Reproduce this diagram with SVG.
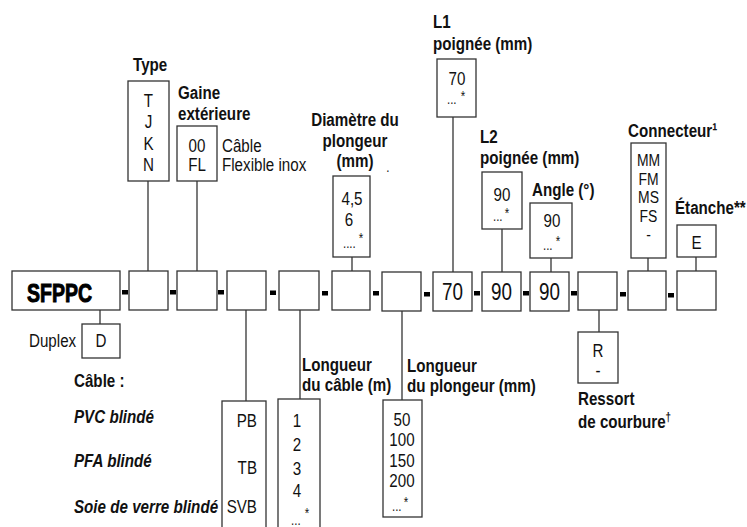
<svg xmlns="http://www.w3.org/2000/svg" width="747" height="527" viewBox="0 0 747 527">
<style>
.bx{fill:#fff;stroke:#333;stroke-width:1.3}
.ln{stroke:#333;stroke-width:1.3;fill:none}
.t{font-family:"Liberation Sans",Arial,sans-serif;font-size:18.5px;fill:#111}
.b{font-weight:bold}
.bi{font-weight:bold;font-style:italic}
.c{text-anchor:middle}
.e{text-anchor:end}
.s{font-size:14px}
.m{font-size:17px}
.big{font-size:23px}
.dash{fill:#000}
</style>
<rect width="747" height="527" fill="#fff"/>
<g id="connectors">
<line class="ln" x1="148" y1="181" x2="148" y2="271"/>
<line class="ln" x1="197" y1="181" x2="197" y2="271"/>
<line class="ln" x1="352" y1="257" x2="352" y2="271"/>
<line class="ln" x1="453" y1="117" x2="453" y2="272"/>
<line class="ln" x1="502" y1="229" x2="502" y2="272"/>
<line class="ln" x1="551" y1="258" x2="551" y2="272"/>
<line class="ln" x1="648" y1="258" x2="648" y2="271"/>
<line class="ln" x1="696" y1="257" x2="696" y2="271"/>
<line class="ln" x1="100" y1="310" x2="100" y2="324"/>
<line class="ln" x1="246" y1="310" x2="246" y2="401"/>
<line class="ln" x1="300" y1="310" x2="300" y2="399"/>
<line class="ln" x1="402" y1="311" x2="402" y2="400"/>
<line class="ln" x1="599" y1="310" x2="599" y2="332"/>
</g>
<g id="dashes">
<rect class="dash" x="122" y="290" width="6" height="4.5"/>
<rect class="dash" x="170" y="290" width="6" height="4.5"/>
<rect class="dash" x="218" y="290" width="6" height="4.5"/>
<rect class="dash" x="270" y="290.5" width="6" height="4.5"/>
<rect class="dash" x="322" y="291" width="6" height="4.5"/>
<rect class="dash" x="373" y="291" width="6" height="4.5"/>
<rect class="dash" x="424" y="292" width="6" height="4.5"/>
<rect class="dash" x="474" y="291" width="6" height="4.5"/>
<rect class="dash" x="523" y="291" width="6" height="4.5"/>
<rect class="dash" x="571" y="291" width="6" height="4.5"/>
<rect class="dash" x="620" y="292" width="6" height="4.5"/>
<rect class="dash" x="668" y="293" width="6" height="4.5"/>
</g>
<g id="main">
<rect class="bx" x="12" y="271" width="108" height="39"/>
<text x="27" y="302" font-family="Liberation Sans,Arial,sans-serif" font-weight="bold" font-size="26" stroke="#000" stroke-width="1" textLength="65" lengthAdjust="spacingAndGlyphs">SFPPC</text>
</g>
<g id="b1"><rect class="bx" x="129" y="271" width="39" height="39"/></g>
<g id="b2"><rect class="bx" x="177" y="271" width="40" height="39"/></g>
<g id="b3"><rect class="bx" x="227" y="271" width="39" height="39"/></g>
<g id="b4"><rect class="bx" x="279" y="271" width="40" height="39"/></g>
<g id="b5"><rect class="bx" x="332" y="271" width="38" height="39"/></g>
<g id="b6"><rect class="bx" x="382" y="272" width="39" height="39"/></g>
<g id="b7"><rect class="bx" x="433" y="272" width="39" height="39"/><g transform="scale(0.82 1)"><text class="t big c" x="551.83" y="300">70</text></g></g>
<g id="b8"><rect class="bx" x="482" y="272" width="39" height="39"/><g transform="scale(0.82 1)"><text class="t big c" x="611.59" y="300">90</text></g></g>
<g id="b9"><rect class="bx" x="530" y="272" width="39" height="39"/><g transform="scale(0.82 1)"><text class="t big c" x="670.12" y="300">90</text></g></g>
<g id="b10"><rect class="bx" x="578" y="272" width="39" height="38"/></g>
<g id="b11"><rect class="bx" x="628" y="271" width="38" height="39"/></g>
<g id="b12"><rect class="bx" x="677" y="271" width="39" height="39"/></g>

<g id="type">
<rect class="bx" x="128" y="81" width="41" height="100"/>
<g transform="scale(0.82 1)">
<text class="t b" x="162.2" y="71">Type</text>
<text class="t c" x="181.1" y="107">T</text>
<text class="t c" x="181.1" y="128">J</text>
<text class="t c" x="181.1" y="150">K</text>
<text class="t c" x="181.1" y="171">N</text>
</g>
</g>
<g id="gaine">
<rect class="bx" x="177" y="126" width="40" height="55"/>
<g transform="scale(0.82 1)">
<text class="t b" x="217.07" y="99">Gaine</text>
<text class="t b" x="217.07" y="120">extérieure</text>
<text class="t c" x="240.24" y="152">00</text>
<text class="t c" x="240.24" y="171">FL</text>
<text class="t" x="270.73" y="152">Câble</text>
<text class="t" x="270.73" y="171">Flexible inox</text>
</g>
</g>
<g id="diametre">
<rect class="bx" x="333" y="176" width="37" height="81"/>
<g transform="scale(0.82 1)">
<text class="t b c" x="432.93" y="126">Diamètre du</text>
<text class="t b c" x="432.93" y="147">plongeur</text>
<text class="t b c" x="432.93" y="167">(mm)</text>
<text class="t s" x="471" y="172">.</text>
<text class="t c" x="429.27" y="205">4,5</text>
<text class="t c" x="425.61" y="226">6</text>
<text class="t s" x="418.29" y="248">....</text>
<text class="t s c" x="440.24" y="243">*</text>
</g>
</g>
<g id="l1">
<rect class="bx" x="437" y="59" width="39" height="58"/>
<g transform="scale(0.82 1)">
<text class="t b" x="528.05" y="28">L1</text>
<text class="t b" x="528.05" y="50">poignée (mm)</text>
<text class="t c" x="557.32" y="85">70</text>
<text class="t s" x="545.12" y="104">...</text>
<text class="t s c" x="564.63" y="101">*</text>
</g>
</g>
<g id="l2">
<rect class="bx" x="482" y="172" width="40" height="57"/>
<g transform="scale(0.82 1)">
<text class="t b" x="585.37" y="143">L2</text>
<text class="t b" x="585.37" y="164">poignée (mm)</text>
<text class="t c" x="612.2" y="201">90</text>
<text class="t s" x="601.22" y="221">...</text>
<text class="t s c" x="618.29" y="218">*</text>
</g>
</g>
<g id="angle">
<rect class="bx" x="530" y="203" width="42" height="55"/>
<g transform="scale(0.82 1)">
<text class="t b" x="648.78" y="196">Angle (°)</text>
<text class="t c" x="673.17" y="227">90</text>
<text class="t s" x="662.2" y="250">...</text>
<text class="t s c" x="680.49" y="246">*</text>
</g>
</g>
<g id="connecteur">
<rect class="bx" x="631" y="143" width="35" height="115"/>
<g transform="scale(0.82 1)">
<text class="t b" x="765.85" y="137">Connecteur¹</text>
<text class="t m c" x="790.85" y="166">MM</text>
<text class="t m c" x="790.85" y="185">FM</text>
<text class="t m c" x="790.85" y="203">MS</text>
<text class="t m c" x="790.85" y="222">FS</text>
<text class="t m c" x="790.85" y="240">-</text>
</g>
</g>
<g id="etanche">
<rect class="bx" x="677" y="225" width="39" height="32"/>
<g transform="scale(0.82 1)">
<text class="t b" x="823.17" y="214">Étanche**</text>
<text class="t c" x="849.39" y="249">E</text>
</g>
</g>
<g id="duplex">
<rect class="bx" x="82" y="324" width="38" height="34"/>
<g transform="scale(0.82 1)">
<text class="t c" x="123.17" y="347">D</text>
<text class="t" x="35.37" y="347">Duplex</text>
</g>
</g>
<g id="cable">
<rect class="bx" x="222" y="401" width="44" height="140"/>
<g transform="scale(0.82 1)">
<text class="t b" x="90.24" y="387">Câble :</text>
<text class="t bi" x="90.24" y="423">PVC blindé</text>
<text class="t bi" x="90.24" y="467">PFA blindé</text>
<text class="t bi" x="90.24" y="513">Soie de verre blindé</text>
<text class="t e" x="313.41" y="427">PB</text>
<text class="t e" x="313.41" y="474">TB</text>
<text class="t e" x="313.41" y="513">SVB</text>
</g>
</g>
<g id="longueur-cable">
<rect class="bx" x="278" y="399" width="42" height="140"/>
<g transform="scale(0.82 1)">
<text class="t b" x="368.29" y="371">Longueur</text>
<text class="t b" x="368.29" y="391">du câble (m)</text>
<text class="t c" x="362.2" y="427" font-size="20.5">1</text>
<text class="t c" x="362.2" y="451" font-size="20.5">2</text>
<text class="t c" x="362.2" y="475" font-size="20.5">3</text>
<text class="t c" x="362.2" y="497" font-size="20.5">4</text>
<text class="t s" x="354.88" y="525">...</text>
<text class="t s c" x="374.39" y="518">*</text>
</g>
</g>
<g id="longueur-plongeur">
<rect class="bx" x="383" y="400" width="39" height="117"/>
<g transform="scale(0.82 1)">
<text class="t b" x="496.34" y="372">Longueur</text>
<text class="t b" x="496.34" y="392">du plongeur (mm)</text>
<text class="t c" x="490.24" y="426">50</text>
<text class="t c" x="490.24" y="446">100</text>
<text class="t c" x="490.24" y="467">150</text>
<text class="t c" x="490.24" y="487">200</text>
<text class="t s" x="478.05" y="511">...</text>
<text class="t s c" x="495.12" y="507">*</text>
</g>
</g>
<g id="ressort">
<rect class="bx" x="578" y="332" width="40" height="51"/>
<g transform="scale(0.82 1)">
<text class="t c" x="729.27" y="357">R</text>
<text class="t c" x="729.27" y="377">-</text>
<text class="t b" x="704.88" y="405">Ressort</text>
<text class="t b" x="704.88" y="428">de courbure<tspan font-size="12" dy="-7">†</tspan></text>
</g>
</g>
</svg>
